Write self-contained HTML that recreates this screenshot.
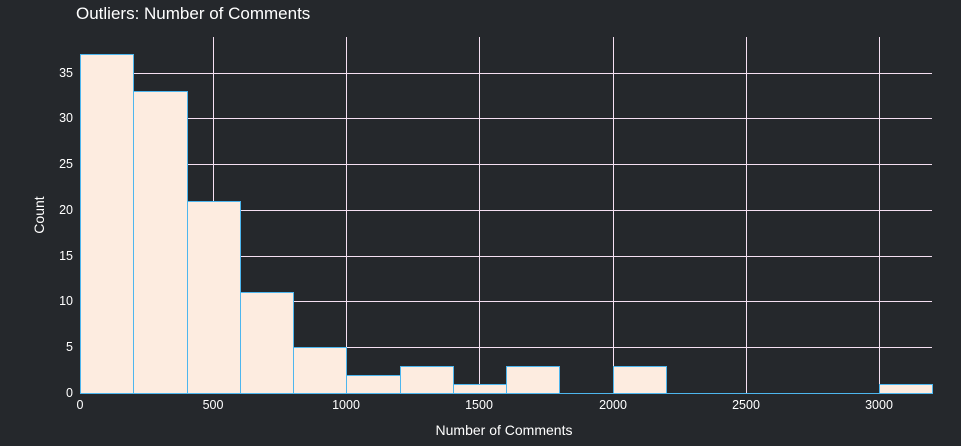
<!DOCTYPE html>
<html><head><meta charset="utf-8"><style>
html,body{margin:0;padding:0;background:#25282c;}
svg{display:block;font-family:"Liberation Sans",sans-serif;}
</style></head><body>
<svg id="chart" width="961" height="446">
<rect width="961" height="446" fill="#25282c"/>
<text x="76" y="19" fill="#ffffff" font-size="17">Outliers: Number of Comments</text>
<g id="grid"></g>
<g id="bars"></g>
<g id="ticks"></g>
<text x="504" y="435" fill="#ffffff" font-size="14" text-anchor="middle">Number of Comments</text>
<text x="44" y="215" fill="#ffffff" font-size="14" text-anchor="middle" transform="rotate(-90 44 215)">Count</text>
</svg>
<script>
const binStarts=[0,200,400,600,800,1000,1200,1400,1600,1800,2000,2200,2400,2600,2800,3000];
const counts=[37,33,21,11,5,2,3,1,3,0,3,0,0,0,0,1];
const binWidth=200;
const xTicks=[0,500,1000,1500,2000,2500,3000];
const yTicks=[5,10,15,20,25,30,35];
const X0=80,X1=932,Y0=393,Y1=37,XMAX=3200,YMAX=38.9;
const sx=v=>Math.round(X0+(v/XMAX)*(X1-X0));
const sy=v=>Math.round(Y0-(v/YMAX)*(Y0-Y1));
const NS="http://www.w3.org/2000/svg";
const grid=document.getElementById('grid'),bars=document.getElementById('bars'),ticks=document.getElementById('ticks');
function mk(tag,attrs,parent){const e=document.createElementNS(NS,tag);for(const k in attrs)e.setAttribute(k,attrs[k]);parent.appendChild(e);return e;}
xTicks.forEach(t=>{
  if(t>0){const l=mk('line',{x1:sx(t)+0.5,x2:sx(t)+0.5,y1:Y1,y2:Y0,stroke:'#f5e0f2','stroke-width':1},grid);
  
  }
  const tx=mk('text',{x:sx(t),y:409,fill:'#ffffff','font-size':12.5,'text-anchor':'middle'},ticks);
  tx.textContent=t;
  
  
});
yTicks.forEach(t=>{
  const l=mk('line',{x1:X0,x2:X1,y1:sy(t)+0.5,y2:sy(t)+0.5,stroke:'#f5e0f2','stroke-width':1},grid);
  
  
  const tx=mk('text',{x:73,y:sy(t)+4,fill:'#ffffff','font-size':12.5,'text-anchor':'end'},ticks);
  tx.textContent=t;
  
  
});
const z=mk('text',{x:73,y:Y0+4,fill:'#ffffff','font-size':12.5,'text-anchor':'end'},ticks);
z.textContent='0';


binStarts.forEach((b,i)=>{
  if(counts[i]<=0)return;
  const x=sx(b),w=sx(b+binWidth)-x,y=sy(counts[i]);
  const r=mk('rect',{x:x+0.5,y:y+0.5,width:w,height:Y0-y,fill:'#fdece0',stroke:'#4db6ee','stroke-width':1},bars);
  
  
});
const ax=mk('line',{x1:X0,x2:X1,y1:Y0+0.5,y2:Y0+0.5,stroke:'#4db6ee','stroke-width':1},bars);


</script>
</body></html>
